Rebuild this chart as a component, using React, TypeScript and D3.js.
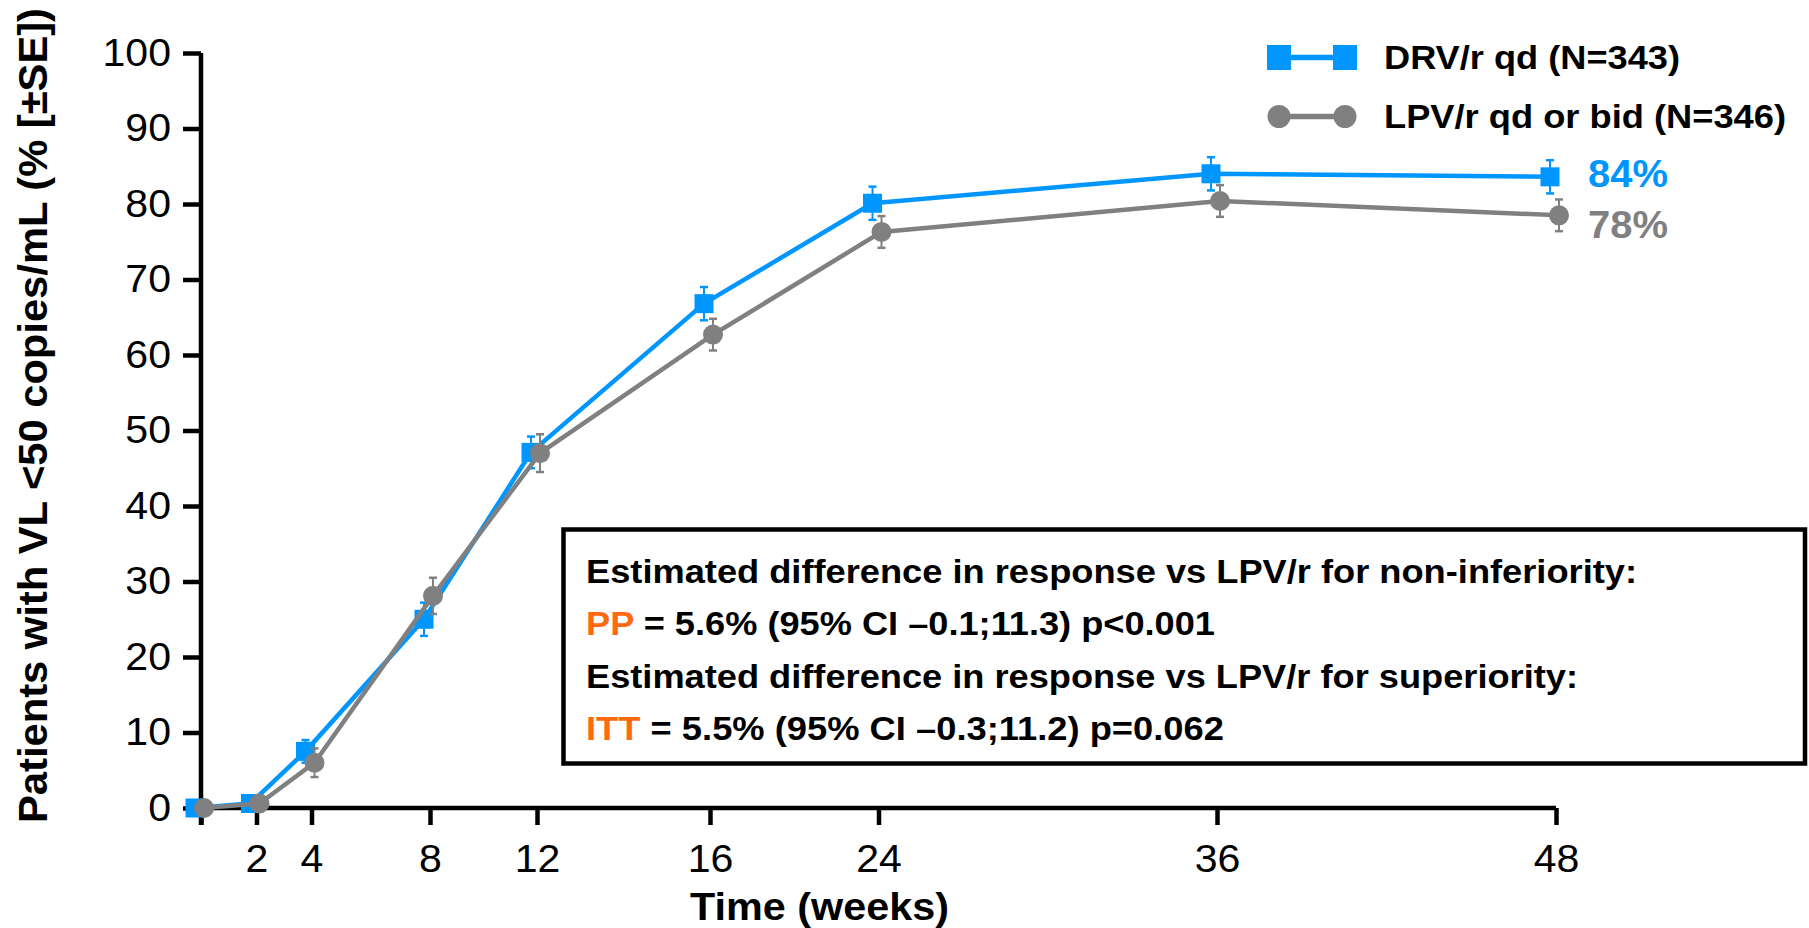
import React, { useRef, useEffect } from "react";
import * as d3 from "d3";

// weeks on the x axis
const weeks = [0, 2, 4, 8, 12, 16, 24, 36, 48];
const yTicks = [0, 10, 20, 30, 40, 50, 60, 70, 80, 90, 100];

// % with VL <50 copies/mL
const drvValues = [0, 0.6, 7.5, 25, 47.1, 66.8, 80.1, 84.0, 83.6];
const drvSE = [0, 0, 1.5, 2.2, 2.1, 2.2, 2.2, 2.2, 2.2];
const lpvValues = [0, 0.6, 6.0, 28.1, 47.0, 62.7, 76.3, 80.4, 78.5];
const lpvSE = [0, 0, 1.9, 2.4, 2.5, 2.1, 2.1, 2.1, 2.1];

const seriesNames = ["DRV/r qd (N=343)", "LPV/r qd or bid (N=346)"];
const endLabels = ["84%", "78%"];

const boxLines = [
  { lead: "", rest: "Estimated difference in response vs LPV/r for non-inferiority:" },
  { lead: "PP", rest: " = 5.6% (95% CI \u20130.1;11.3) p<0.001" },
  { lead: "", rest: "Estimated difference in response vs LPV/r for superiority:" },
  { lead: "ITT", rest: " = 5.5% (95% CI \u20130.3;11.2) p=0.062" },
];

const BLUE = "#0096ff";
const GREY = "#808080";
const ORANGE = "#ff6a10";
const FONT = "'Liberation Sans', Arial, sans-serif";

// the slide font is a bit wider than Liberation Sans, so stretch text to the widths seen
const stretch = (sel, k) => {
  sel.each(function () {
    const len = this.getComputedTextLength();
    if (len > 0) d3.select(this).attr("textLength", len * k).attr("lengthAdjust", "spacingAndGlyphs");
  });
};
const fitTo = (sel, w) => {
  sel.attr("textLength", w).attr("lengthAdjust", "spacingAndGlyphs");
};

const App = () => {
  const svgRef = useRef(null);

  useEffect(() => {
    const svg = d3.select(svgRef.current);
    svg.selectAll("*").remove();

    // the week axis on the slide is not evenly spaced, so map each tick to where it sits
    const x = d3.scaleLinear()
      .domain(weeks)
      .range([201, 256.5, 311.5, 430, 537, 710, 878.5, 1217, 1556]);
    const y = d3.scaleLinear().domain([0, 100]).range([808, 53]);

    const axisW = 4.5;

    /*** Y axis ***/
    const yAxis = svg.append("g")
      .attr("transform", `translate(${x(0)},0)`)
      .call(d3.axisLeft(y).tickValues(yTicks).tickSize(18).tickSizeOuter(0).tickPadding(12));
    yAxis.select(".domain").remove();
    yAxis.selectAll("line").attr("stroke", "#000").attr("stroke-width", axisW);
    yAxis.selectAll("text")
      .attr("font-family", FONT).attr("font-size", 38).attr("fill", "#000");
    stretch(yAxis.selectAll("text"), 1.08);

    /*** X axis ***/
    const xAxis = svg.append("g")
      .attr("transform", `translate(0,${y(0)})`)
      .call(d3.axisBottom(x).tickValues(weeks).tickSize(17).tickSizeOuter(0).tickPadding(20)
        .tickFormat(d => (d === 0 ? "" : String(d))));
    xAxis.select(".domain").remove();
    xAxis.selectAll("line").attr("stroke", "#000").attr("stroke-width", axisW);
    xAxis.selectAll("text")
      .attr("font-family", FONT).attr("font-size", 38).attr("fill", "#000");
    stretch(xAxis.selectAll("text"), 1.08);

    // axis lines drawn by hand so they meet in the corner
    svg.append("line")
      .attr("x1", x(0)).attr("x2", x(0))
      .attr("y1", y(100)).attr("y2", y(0) + 17)
      .attr("stroke", "#000").attr("stroke-width", axisW);
    svg.append("line")
      .attr("x1", x(0)).attr("x2", x(48))
      .attr("y1", y(0)).attr("y2", y(0))
      .attr("stroke", "#000").attr("stroke-width", axisW);

    /*** Axis titles ***/
    const yTitle = svg.append("text")
      .attr("transform", `translate(47,${(823 + 8) / 2}) rotate(-90)`)
      .attr("text-anchor", "middle")
      .attr("font-family", FONT).attr("font-size", 40).attr("font-weight", "bold")
      .text("Patients with VL <50 copies/mL (% [\u00b1SE])");
    fitTo(yTitle, 815);

    const xTitle = svg.append("text")
      .attr("x", 819.5).attr("y", 920)
      .attr("text-anchor", "middle")
      .attr("font-family", FONT).attr("font-size", 38).attr("font-weight", "bold")
      .text("Time (weeks)");
    fitTo(xTitle, 259);

    /*** Series ***/
    const series = [
      { values: drvValues, se: drvSE, color: BLUE, shape: "square", dx: -6 },
      { values: lpvValues, se: lpvSE, color: GREY, shape: "circle", dx: 3 },
    ];

    series.forEach(s => {
      const pts = weeks.map((w, i) => ({ w, v: s.values[i], se: s.se[i] }));
      const g = svg.append("g");
      const line = d3.line()
        .x(d => x(d.w) + s.dx)
        .y(d => y(d.v));

      g.append("path")
        .datum(pts)
        .attr("fill", "none")
        .attr("stroke", s.color)
        .attr("stroke-width", 4.5)
        .attr("stroke-linejoin", "round")
        .attr("d", line);

      // error bars
      const eb = g.selectAll(".eb").data(pts.filter(d => d.se > 0)).enter().append("g");
      eb.append("line")
        .attr("x1", d => x(d.w) + s.dx).attr("x2", d => x(d.w) + s.dx)
        .attr("y1", d => y(d.v + d.se)).attr("y2", d => y(d.v - d.se))
        .attr("stroke", s.color).attr("stroke-width", 2);
      [1, -1].forEach(sign => {
        eb.append("line")
          .attr("x1", d => x(d.w) + s.dx - 4).attr("x2", d => x(d.w) + s.dx + 4)
          .attr("y1", d => y(d.v + sign * d.se)).attr("y2", d => y(d.v + sign * d.se))
          .attr("stroke", s.color).attr("stroke-width", 2.5);
      });

      if (s.shape === "square") {
        g.selectAll(".mk").data(pts).enter().append("rect")
          .attr("x", d => x(d.w) + s.dx - 9.5)
          .attr("y", d => y(d.v) - 9.5)
          .attr("width", 19).attr("height", 19)
          .attr("fill", s.color);
      } else {
        g.selectAll(".mk").data(pts).enter().append("circle")
          .attr("cx", d => x(d.w) + s.dx)
          .attr("cy", d => y(d.v))
          .attr("r", 10)
          .attr("fill", s.color);
      }
    });

    /*** End labels ***/
    const l84 = svg.append("text")
      .attr("x", 1588).attr("y", 187)
      .attr("font-family", FONT).attr("font-size", 38.5).attr("font-weight", "bold")
      .attr("fill", BLUE).text(endLabels[0]);
    fitTo(l84, 80);
    const l78 = svg.append("text")
      .attr("x", 1588).attr("y", 238)
      .attr("font-family", FONT).attr("font-size", 38.5).attr("font-weight", "bold")
      .attr("fill", GREY).text(endLabels[1]);
    fitTo(l78, 80);

    /*** Legend ***/
    const lg = svg.append("g");
    const legendRows = [
      { name: seriesNames[0], color: BLUE, shape: "square", cy: 57.5, w: 296 },
      { name: seriesNames[1], color: GREY, shape: "circle", cy: 116.5, w: 402 },
    ];
    legendRows.forEach(r => {
      lg.append("line")
        .attr("x1", 1279).attr("x2", 1345)
        .attr("y1", r.cy).attr("y2", r.cy)
        .attr("stroke", r.color).attr("stroke-width", 5.5);
      [1279, 1345].forEach(cx => {
        if (r.shape === "square") {
          lg.append("rect")
            .attr("x", cx - 12).attr("y", r.cy - 12.5)
            .attr("width", 24).attr("height", 25)
            .attr("fill", r.color);
        } else {
          lg.append("circle")
            .attr("cx", cx).attr("cy", r.cy).attr("r", 11.5)
            .attr("fill", r.color);
        }
      });
      const t = lg.append("text")
        .attr("x", 1384).attr("y", r.cy + 11)
        .attr("font-family", FONT).attr("font-size", 32.5).attr("font-weight", "bold")
        .text(r.name);
      fitTo(t, r.w);
    });

    /*** Stats box ***/
    svg.append("rect")
      .attr("x", 563.5).attr("y", 529.5)
      .attr("width", 1805 - 563.5).attr("height", 763.5 - 529.5)
      .attr("fill", "#fff")
      .attr("stroke", "#000").attr("stroke-width", 4.5);

    const boxWidths = [1051, 629, 992, 638];
    boxLines.forEach((ln, i) => {
      const t = svg.append("text")
        .attr("x", 586).attr("y", 583 + i * 52.4)
        .attr("font-family", FONT).attr("font-size", 32.5).attr("font-weight", "bold");
      if (ln.lead) t.append("tspan").attr("fill", ORANGE).text(ln.lead);
      t.append("tspan").attr("fill", "#000").text(ln.rest);
      fitTo(t, boxWidths[i]);
    });
  }, []);

  return (
    <div style={{ position: "absolute", left: 0, top: 0 }}>
      <svg ref={svgRef} width={1809} height={928} style={{ display: "block", background: "#fff" }}></svg>
    </div>
  );
};

export default App;
